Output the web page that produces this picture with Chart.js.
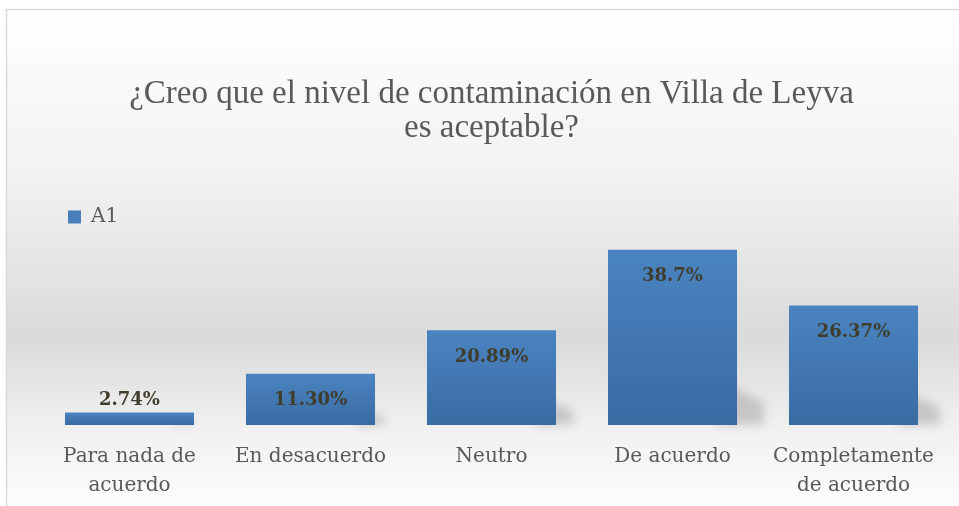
<!DOCTYPE html>
<html lang="es">
<head>
    <meta charset="UTF-8">
    <title>Nivel de contaminación en Villa de Leyva</title>
    <script src="https://cdn.jsdelivr.net/npm/chart.js"></script>
    <style>
        html, body { margin: 0; padding: 0; background: #ffffff; }
        #wrap { width: 959px; height: 506px; }
    </style>
</head>
<body>
    <div id="wrap"><canvas id="chart" width="959" height="506"></canvas></div>
    <script>
        // datos
        const categorias = [
            ['Para nada de', 'acuerdo'],
            'En desacuerdo',
            'Neutro',
            'De acuerdo',
            ['Completamente', 'de acuerdo']
        ];
        const valores = [2.74, 11.30, 20.89, 38.7, 26.37];
        const etiquetas = ['2.74%', '11.30%', '20.89%', '38.7%', '26.37%'];
        const serie = 'A1';

        // fondo degradado y marco
        const fondo = {
            id: 'fondo',
            beforeDraw(chart) {
                const c = chart.ctx;
                const h = chart.height, w = chart.width;
                const g = c.createLinearGradient(0, 9, 0, h);
                g.addColorStop(0, '#ffffff');
                g.addColorStop(0.35, '#f1f1f1');
                g.addColorStop(0.66, '#dadada');
                g.addColorStop(0.84, '#f0f0f0');
                g.addColorStop(1, '#fdfdfd');
                c.save();
                c.fillStyle = '#ffffff';
                c.fillRect(0, 0, w, h);
                c.fillStyle = g;
                c.fillRect(6, 9, w, h);
                c.strokeStyle = '#d9d9d9';
                c.lineWidth = 1.5;
                c.beginPath();
                c.moveTo(6.5, h);
                c.lineTo(6.5, 9.5);
                c.lineTo(w, 9.5);
                c.stroke();
                c.restore();
            },
            // sombra difusa detrás de cada barra
            beforeDatasetsDraw(chart) {
                const c = chart.ctx;
                const meta = chart.getDatasetMeta(0);
                c.save();
                c.filter = 'blur(5px)';
                c.fillStyle = 'rgba(0,0,0,0.16)';
                meta.data.forEach((bar) => {
                    const alto = bar.base - bar.y;
                    const sh = Math.min(alto * 0.3, 45);
                    const der = bar.x + bar.width / 2;
                    c.beginPath();
                    c.moveTo(der - 20, bar.base);
                    c.lineTo(der - 20, bar.base - sh);
                    c.lineTo(der + sh * 0.6, bar.base - sh * 0.5);
                    c.lineTo(der + sh * 0.6, bar.base);
                    c.closePath();
                    c.fill();
                });
                c.restore();
            }
        };

        // etiquetas de valor dentro / encima de las barras
        const valoresBarras = {
            id: 'valoresBarras',
            afterDatasetsDraw(chart) {
                const c = chart.ctx;
                const meta = chart.getDatasetMeta(0);
                c.save();
                c.font = 'bold 18px "DejaVu Serif"';
                c.fillStyle = '#403d2c';
                c.textAlign = 'center';
                c.textBaseline = 'middle';
                meta.data.forEach((bar, i) => {
                    const alto = bar.base - bar.y;
                    const y = alto > 30 ? bar.y + 27 : bar.y - 12;
                    c.fillText(etiquetas[i], bar.x, y);
                });
                c.restore();
            }
        };

        const ctx = document.getElementById('chart').getContext('2d');
        new Chart(ctx, {
            type: 'bar',
            data: {
                labels: categorias,
                datasets: [{
                    label: serie,
                    data: valores,
                    backgroundColor: (context) => {
                        const chart = context.chart;
                        const y = chart.scales && chart.scales.y;
                        if (!chart.chartArea || !y || context.type !== 'data') return '#4a7fbb';
                        const top = y.getPixelForValue(valores[context.dataIndex]);
                        const base = y.getPixelForValue(0);
                        const g = chart.ctx.createLinearGradient(0, top, 0, base);
                        g.addColorStop(0, '#4a84c1');
                        g.addColorStop(1, '#3a6ba3');
                        return g;
                    },
                    borderWidth: 0,
                    categoryPercentage: 1,
                    barPercentage: 0.713
                }]
            },
            options: {
                responsive: false,
                animation: false,
                layout: { padding: { left: 39, right: 15, top: 0, bottom: -3 } },
                scales: {
                    x: {
                        grid: { display: false },
                        border: { display: false },
                        ticks: {
                            color: '#595959',
                            font: { family: '"DejaVu Serif"', size: 20, lineHeight: 1.45 },
                            padding: 9,
                            maxRotation: 0
                        }
                    },
                    y: {
                        display: false,
                        min: 0,
                        max: 41.5
                    }
                },
                plugins: {
                    title: {
                        display: true,
                        text: ['¿Creo que el nivel de contaminación en Villa de Leyva', 'es aceptable?'],
                        color: '#595959',
                        font: { family: '"Liberation Serif"', size: 33, weight: 'normal', lineHeight: 1.03 },
                        padding: { top: 77, bottom: 33 }
                    },
                    legend: {
                        display: true,
                        position: 'top',
                        align: 'start',
                        labels: {
                            color: '#595959',
                            font: { family: '"DejaVu Serif"', size: 20 },
                            boxWidth: 13,
                            boxHeight: 13,
                            padding: 29,
                            generateLabels: () => [{
                                text: serie,
                                fillStyle: '#4a7fbb',
                                strokeStyle: '#4a7fbb',
                                fontColor: '#595959',
                                lineWidth: 0,
                                datasetIndex: 0
                            }]
                        }
                    },
                    tooltip: { enabled: false }
                }
            },
            plugins: [fondo, valoresBarras]
        });
    </script>
</body>
</html>
